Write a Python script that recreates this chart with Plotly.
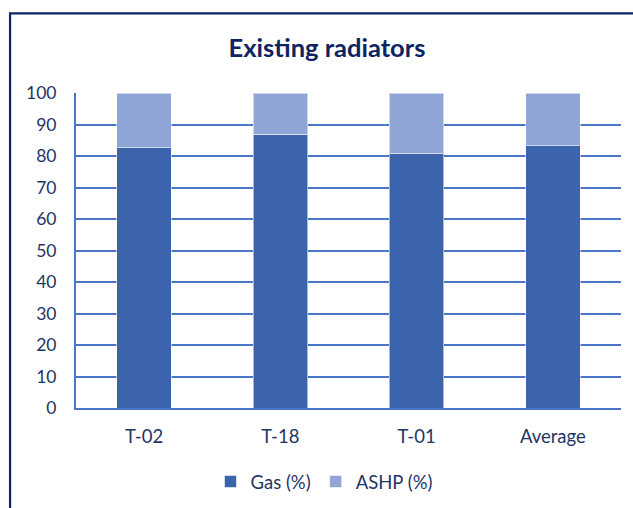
import plotly.graph_objects as go

# Share of heating supplied by each source for the existing radiators
sites = ["T-02", "T-18", "T-01", "Average"]
gas_pct = [82.7, 86.9, 80.9, 83.3]
ashp_pct = [17.3, 13.1, 19.1, 16.7]
y_ticks = [0, 10, 20, 30, 40, 50, 60, 70, 80, 90, 100]

W, H = 633, 508
# plot area in pixels
L, R, T, B = 76, 621.5, 92.7, 407.7

GAS_COLOR = "#3C64AD"
ASHP_COLOR = "#8FA5D5"
GRID_COLOR = "#4A76C8"
TEXT_COLOR = "#1F3566"
FRAME_COLOR = "#0D2463"
FONT = "Lato"

fig = go.Figure()
fig.add_bar(
    x=sites, y=gas_pct, name="Gas (%)",
    marker=dict(color=GAS_COLOR, line=dict(color="rgba(255,255,255,0.55)", width=1)),
)
fig.add_bar(
    x=sites, y=ashp_pct, name="ASHP (%)",
    marker=dict(color=ASHP_COLOR, line=dict(color="rgba(255,255,255,0.55)", width=1)),
)


def px_x(p):
    return (p - L) / (R - L)


def px_y(p):
    return (B - p) / (B - T)


# outer chart frame (left and top edges visible, the rest runs off the page)
fig.add_shape(
    type="rect", xref="paper", yref="paper",
    x0=px_x(10), x1=px_x(W + 20), y0=px_y(H + 20), y1=px_y(13),
    line=dict(color=FRAME_COLOR, width=2.2), fillcolor="rgba(0,0,0,0)",
    layer="above",
)

fig.update_layout(
    width=W, height=H,
    margin=dict(l=L, r=W - R, t=T, b=H - B),
    paper_bgcolor="white", plot_bgcolor="white",
    barmode="stack", bargap=0.6,
    font=dict(family=FONT, color=TEXT_COLOR, size=17.5),
    title=dict(
        text="<b>Existing radiators</b>",
        x=327 / W, xref="container", xanchor="center",
        y=1 - 48 / H, yref="container", yanchor="middle",
        font=dict(family=FONT, size=25.5, color=FRAME_COLOR),
    ),
    legend=dict(
        orientation="h", x=324 / W, xanchor="center", xref="container",
        y=1 - 482 / H, yanchor="middle", yref="container",
        font=dict(family=FONT, size=18.5, color=TEXT_COLOR),
        itemwidth=30, traceorder="normal",
    ),
    xaxis=dict(
        showgrid=False, showline=True, linecolor=GRID_COLOR, linewidth=2,
        ticks="", ticklabelstandoff=11, tickfont=dict(size=18.5),
    ),
    yaxis=dict(
        range=[0, 100], tickvals=y_ticks, showgrid=True, gridcolor=GRID_COLOR,
        gridwidth=2, showline=True, linecolor=GRID_COLOR, linewidth=2,
        zeroline=False, ticks="", ticklabelstandoff=14, tickfont=dict(size=17.5),
    ),
    showlegend=True,
)

fig.write_html("out.html")
